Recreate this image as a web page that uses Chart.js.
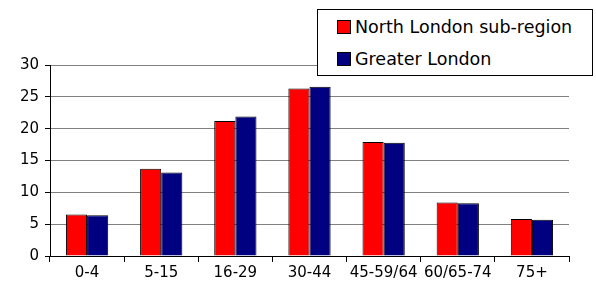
<!DOCTYPE html>
<html>
<head>
<meta charset="utf-8">
<script src="https://cdn.jsdelivr.net/npm/chart.js@4.4.0/dist/chart.umd.min.js"></script>
<style>
    html, body { margin: 0; padding: 0; background: #fff; }
    #contenedor { position: relative; width: 596px; height: 289px; }
    #leyenda {
        position: absolute; left: 317px; top: 9px; width: 274px; height: 65px;
        border: 1px solid #000; background: #fff;
        font-family: "DejaVu Sans", sans-serif; font-size: 17.5px; color: #000;
    }
    .item { position: absolute; left: 19px; height: 22px; line-height: 22px; white-space: nowrap; }
    .caja { display: inline-block; width: 12px; height: 12px; border: 1px solid #000; margin-right: 4px; vertical-align: -1px; }
</style>
</head>
<body>
<div id="contenedor">
    <canvas id="grafica" width="596" height="289"></canvas>
    <div id="leyenda"></div>
</div>
<script>
const categorias = ['0-4', '5-15', '16-29', '30-44', '45-59/64', '60/65-74', '75+'];
const northLondon = [6.5, 13.7, 21.2, 26.3, 17.9, 8.4, 5.8];
const greaterLondon = [6.4, 13.1, 21.9, 26.6, 17.8, 8.3, 5.7];
const series = ['North London sub-region', 'Greater London'];
const colores = ['#FF0000', '#000080'];

const fuente = { family: '"DejaVu Sans", sans-serif', size: 15 };

new Chart(document.getElementById('grafica').getContext('2d'), {
    type: 'bar',
    data: {
        labels: categorias,
        datasets: [
            { label: series[0], data: northLondon, backgroundColor: colores[0], borderColor: '#000', borderWidth: 1 },
            { label: series[1], data: greaterLondon, backgroundColor: colores[1], borderColor: '#000', borderWidth: 1 }
        ]
    },
    options: {
        responsive: false,
        animation: false,
        layout: { padding: { top: 65, right: 27, bottom: 0, left: 0 } },
        datasets: { bar: { barPercentage: 1, categoryPercentage: 0.57 } },
        scales: {
            x: {
                afterFit: scale => { scale.height = 33; },
                border: { color: '#000', width: 1 },
                grid: { offset: true, drawOnChartArea: false, drawTicks: true, tickLength: 6, color: '#000' },
                ticks: { color: '#000', font: fuente, padding: 2, maxRotation: 0, autoSkip: false }
            },
            y: {
                min: 0, max: 30,
                afterFit: scale => { scale.width = 50; },
                border: { color: '#000', width: 1 },
                grid: { color: '#808080', tickColor: '#000', tickLength: 5 },
                ticks: { stepSize: 5, color: '#000', font: fuente, padding: 6 }
            }
        },
        plugins: {
            legend: { display: false },
            tooltip: { enabled: false }
        }
    }
});

// Leyenda con recuadro
const leyenda = document.getElementById('leyenda');
series.forEach((nombre, i) => {
    const item = document.createElement('div');
    item.className = 'item';
    item.style.top = (i === 0 ? 6 : 38) + 'px';
    item.innerHTML = '<span class="caja" style="background:' + colores[i] + '"></span>' + nombre;
    leyenda.appendChild(item);
});
</script>
</body>
</html>
